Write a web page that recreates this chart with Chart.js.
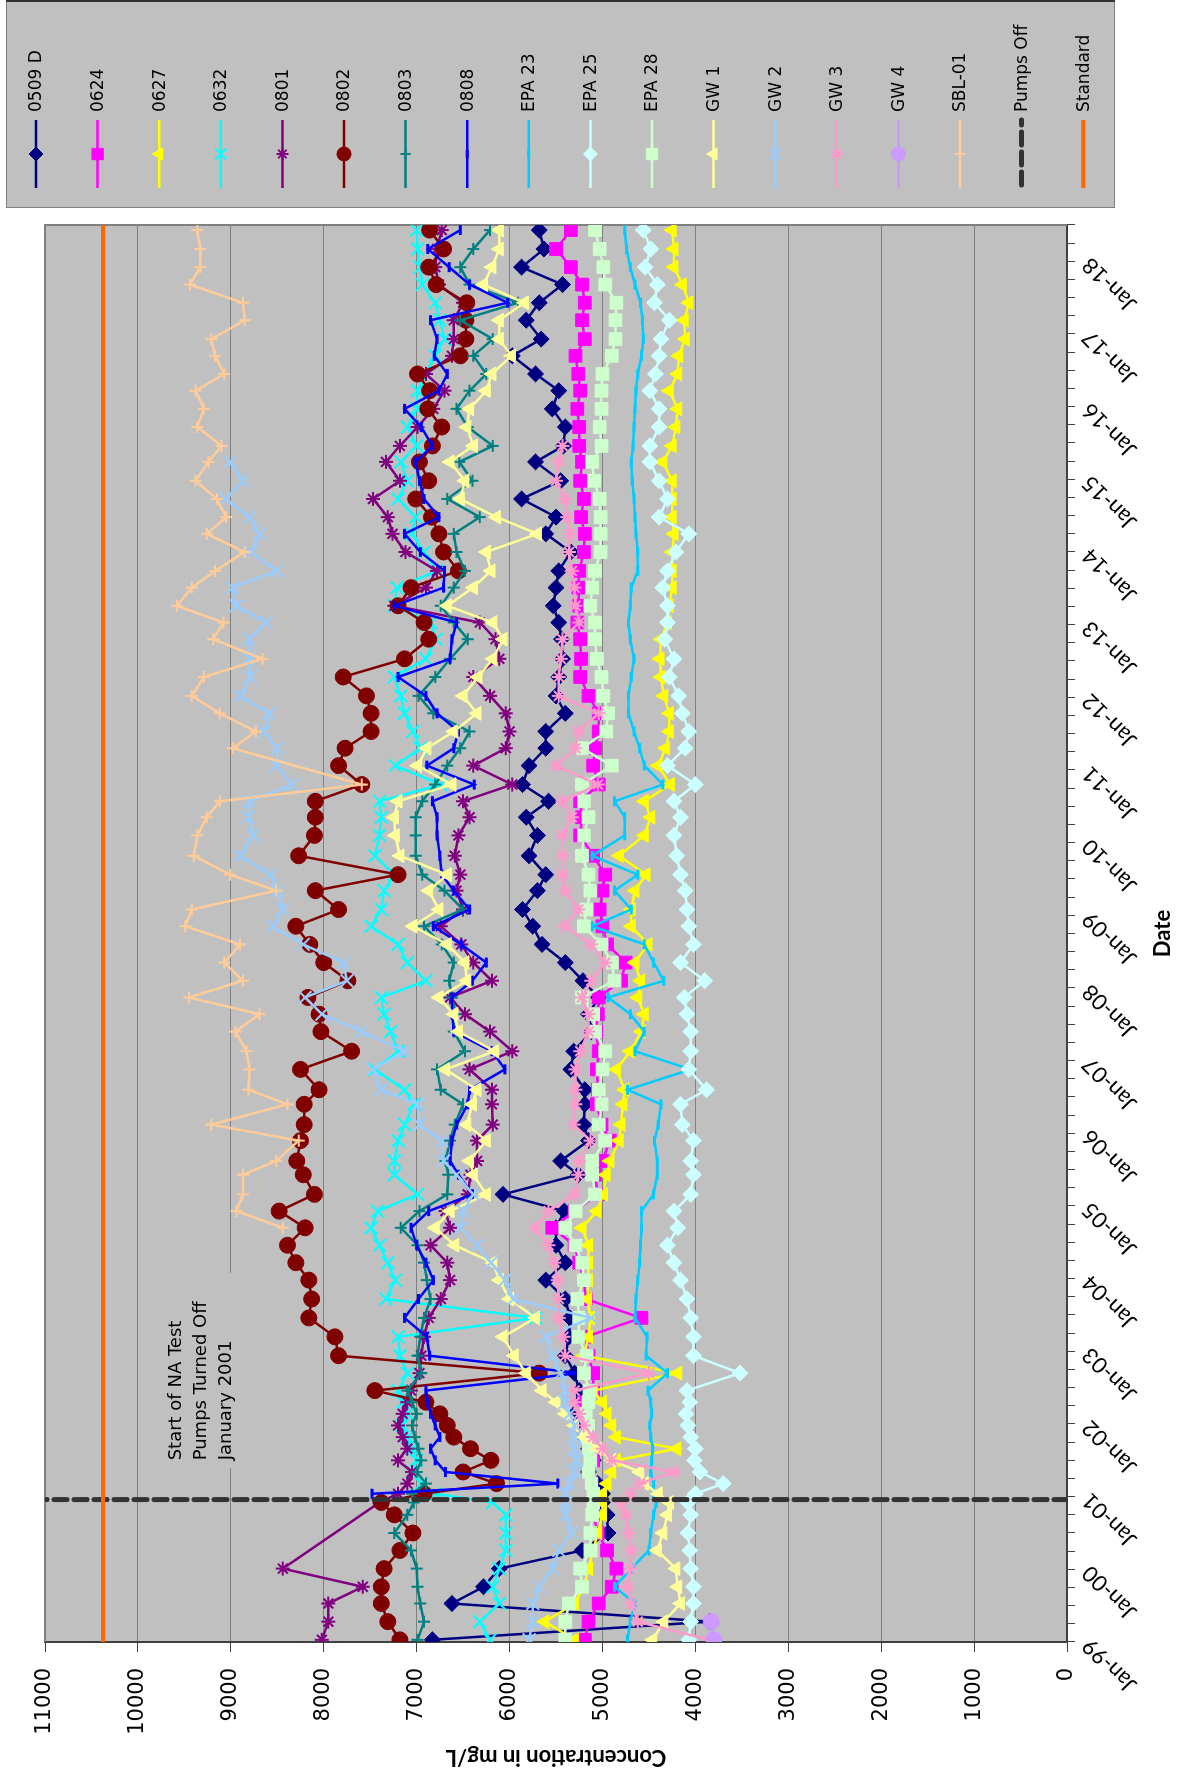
<!DOCTYPE html>
<html>
<head>
<meta charset="utf-8">
<script src="https://cdn.jsdelivr.net/npm/chart.js@4.4.1/dist/chart.umd.min.js"></script>
<style>
  html, body { margin: 0; padding: 0; background: #fff; overflow: hidden; width: 1177px; height: 1775px; }
  /* chart is drawn landscape and turned a quarter turn to fit the portrait page */
  #wrap { position: absolute; left: 0; top: 0; width: 1775px; height: 1177px;
          transform-origin: 0 0; transform: translate(0, 1775px) rotate(-90deg); }
</style>
</head>
<body>
<div id="wrap"><canvas id="chart" width="1775" height="1177"></canvas></div>
<script>
// ---- data (decimal years, mg/L) ----
const dates = [
  1999.03, 1999.28, 1999.53, 1999.76, 2000.01, 2000.26, 2000.50, 2000.75, 2000.92,
  2001.04, 2001.18, 2001.34, 2001.50, 2001.66, 2001.82, 2001.98, 2002.14, 2002.30,
  2002.46, 2002.70, 2002.94, 2003.20, 2003.46, 2003.72, 2003.98, 2004.22, 2004.46,
  2004.70, 2004.93, 2005.16, 2005.43, 2005.62, 2005.90, 2006.12, 2006.40, 2006.60, 2006.88, 2007.13,
  2007.40, 2007.64, 2007.87, 2008.10, 2008.35, 2008.60, 2008.85, 2009.08, 2009.34, 2009.56, 2009.82, 2010.10,
  2010.35, 2010.57, 2010.80, 2011.06, 2011.30, 2011.53, 2011.78, 2012.02, 2012.28, 2012.53, 2012.80,
  2013.03, 2013.26, 2013.51, 2013.74, 2014.00, 2014.25, 2014.48, 2014.73, 2014.98, 2015.24, 2015.46, 2015.72,
  2015.97, 2016.22, 2016.45, 2016.70, 2016.93, 2017.19, 2017.43, 2017.68, 2017.92, 2018.17, 2018.43
];

const s0509D = [
  6830, 3850, 6620, 6280, 6110, 5220, 4940, 4950, 5000,
  5000, 5050, 5150, 5100, 5150, 5200, 5250, 5300, 5250,
  5250, 5300, 5400, 5360, 5350, 5400, 5610, 5400, 5500,
  5500, 5410, 6070, 5260, 5450, 5150, 5200, 5190, 5190, 5340, 5310,
  5120, 5150, 5040, 5210, 5400, 5650, 5750, 5860, 5700, 5610, 5790, 5700,
  5820, 5580, 5860, 5790, 5610, 5610, 5400, 5500, 5470, 5430, 5440,
  5470, 5530, 5500, 5470, 5340, 5610, 5500, 5870, 5450, 5720, 5420, 5400,
  5540, 5470, 5720, 5970, 5660, 5820, 5680, 5430, 5870, 5630, 5680
];
const s0624 = [
  5190, 5150, 5040, 4900, 4850, 4950, 5050, 5100, 5100,
  5100, 5120, 5150, 5100, 5150, 5180, 5150, 5200, 5200,
  5100, 5100, 5150, 5180, 4580, 5180, 5200, 5250, 5300,
  5540, 5300, 5050, 5080, 5000, 4920, 5010, 5060, 5050, 5060, 5040,
  5070, 5050, 5040, 4800, 4750, 4950, 5000, 5030, 5000, 4970, 5100, 5240,
  5220, 5240, 5040, 5100, 5080, 5040, 5040, 5150, 5240, 5230, 5240,
  5270, 5250, 5260, 5250, 5200, 5190, 5230, 5200, 5240, 5220, 5250, 5250,
  5270, 5240, 5260, 5290, 5190, 5220, 5190, 5220, 5340, 5500, 5340
];
const s0627 = [
  5300, 5620, 5300, 5200, 5150, 5100, 5050, 5000, 5000,
  5000, 4950, 4900, 4850, 4200, 4850, 4900, 4950, 5000,
  5100, 4190, 5200, 5150, 5130, 5160, 5150, 5150, 5150,
  5220, 5060, 4990, 4960, 4920, 4820, 4800, 4780, 4760, 4850, 4700,
  4580, 4550, 4620, 4590, 4650, 4510, 4690, 4690, 4650, 4530, 4820, 4550,
  4480, 4550, 4270, 4400, 4320, 4280, 4280, 4340, 4370, 4380, 4370,
  4300, 4280, 4250, 4250, 4250, 4230, 4250, 4250, 4250, 4350, 4250, 4210,
  4190, 4280, 4190, 4180, 4110, 4120, 4070, 4140, 4230, 4230, 4250
];
const s0632 = [
  6210, 6320, 6110, 6180, 6110, 6040, 6040, 6040, 6180,
  6800, 6950, 7050, 7000, 7050, 7100, 7150, 7100, 7150,
  7200, 7100, 7180, 7200, 5720, 7330, 7230, 7310, 7400,
  7490, 7420, 6990, 7240, 7240, 7200, 7130, 7030, 7130, 7450, 7200,
  7280, 7350, 7380, 6900, 7100, 7200, 7490, 7380, 7350, 7240, 7450, 7400,
  7380, 7400, 6740, 7230, 6960, 7040, 7130, 7170, 7240, 6900, 6790,
  6850, 7240, 7210, 6780, 6920, 7050, 7010, 7200, 7100, 7170, 7000, 7100,
  7000, 6990, 6900, 6800, 6700, 6750, 6800, 6940, 6960, 6990, 7000
];
const s0801 = [
  8020, 7950, 7950, 7580, 8440, null, null, null, 7400,
  7200, 7100, 7050, 7200, 7100, 7150, 7200, 7150, 7100,
  7060, 6970, 6950, 6920, 6870, 6740, 6640, 6670, 6850,
  6640, 6690, 6450, 6420, 6350, 6350, 6180, 6190, 6190, 6430, 5970,
  6210, 6480, 6640, 6190, 6390, 6520, 6740, 6500, 6570, 6530, 6590, 6550,
  6430, 6500, 5970, 6390, 6040, 6000, 6040, 6210, 6390, 6110, 6150,
  6320, 7240, 6900, 6780, 7120, 7260, 7310, 7470, 7180, 7330, 7180, 6990,
  6820, 6700, 6900, 6620, 6600, 6600, 6500, 6760, 6800, 6780, 6730
];
const s0802 = [
  7180, 7310, 7380, 7380, 7350, 7180, 7040, 7240, 7380,
  6920, 6140, 6500, 6200, 6420, 6600, 6670, 6750, 6900,
  7450, 5680, 7840, 7880, 8160, 8130, 8160, 8300, 8390,
  8200, 8480, 8100, 8220, 8290, 8250, 8210, 8210, 8050, 8250, 7700,
  8030, 8050, 8170, 7740, 8000, 8150, 8300, 7840, 8090, 7200, 8270, 8100,
  8090, 8090, 7590, 7840, 7770, 7490, 7490, 7540, 7790, 7130, 6870,
  6920, 7200, 7060, 6550, 6710, 6760, 6840, 7010, 6870, 6970, 6830, 6730,
  6880, 6860, 6990, 6530, 6470, 6470, 6460, 6790, 6870, 6710, 6860
];
const s0803 = [
  6990, 6920, 6960, 6990, 7000, 7060, 7240, 7100, 7030,
  7050, 6900, 7000, 6950, 6980, 7020, 7050, 7000, 7050,
  7100, 6950, 6990, 6960, 6920, 6850, 6890, 6920, 6990,
  7170, 6970, 6670, 6660, 6690, 6640, 6590, 6500, 6740, 6780, 6480,
  6600, 6580, 6620, 6650, 6600, 6730, 6920, 6500, 6700, 6940, 7010, 7010,
  7010, 6940, 6800, 6670, 6530, 6430, 6820, 6980, 6800, 6640, 6450,
  6600, 6740, 6600, 6480, 6570, 6600, 6320, 6670, 6400, 6540, 6180, 6450,
  6570, 6430, 6250, 6390, 6180, 6530, 5910, 6430, 6530, 6390, 6210
];
const s0808 = [
  null, null, null, null, null, null, null, null, null,
  7480, 5480, 6690, 6800, 6850, 6750, 6800, 6850, 6880,
  6900, 5260, 6860, 6890, 7130, 6980, 6820, 6900, 7000,
  7060, 6870, 6400, 6550, 6640, 6620, 6570, 6450, 6430, 6050, 6190,
  6600, 6620, 6620, 6400, 6250, 6520, 6820, 6430, 6600, 6730, 6750, 6780,
  6780, 6830, 6380, 6890, 6600, 6550, 6780, 6900, 7200, 6640, 6620,
  6570, 7240, 6710, 6700, 6960, 7130, 6760, 6920, 6970, 7010, 6830, 6950,
  7130, 6760, 6670, 6810, 6780, 6850, 6020, 6430, 6650, 6880, 6530
];
const sEPA23 = [
  4730, 4700, 4650, 4870, 4690, 4500, 4480, 4450, 4420,
  4450, 4450, 4480, 4470, 4460, 4480, 4490, 4470, 4480,
  4510, 4300, 4530, 4520, 4650, 4640, 4620, 4600, 4590,
  4580, 4580, 4450, 4410, 4410, 4440, 4400, 4370, 4730, 4050, 4650,
  4550, 4700, 4940, 4340, 4450, 4550, 5110, 4690, 4870, 4620, 5110, 4760,
  4760, 4870, 4350, 4550, 4600, 4660, 4720, 4720, 4690, 4660, 4700,
  4720, 4700, 4690, 4620, 4620, 4640, 4650, 4660, 4680, 4690, 4670, 4660,
  4650, 4640, 4620, 4580, 4560, 4570, 4590, 4650, 4700, 4740, 4760
];
const sEPA25 = [
  4070, 4050, 4020, 4020, 4050, 4060, 4080, 4050, 4080,
  4000, 3700, 3950, 4010, 4000, 4050, 4080, 4100, 4060,
  4090, 3520, 4020, 4020, 4050, 4090, 4160, 4230, 4300,
  4190, 4230, 4050, 4020, 4050, 4020, 4140, 4160, 3880, 4070, 4050,
  4050, 4090, 4120, 3900, 4160, 4020, 4070, 4090, 4110, 4160, 4200, 4230,
  4160, 4230, 4000, 4300, 4110, 4070, 4140, 4180, 4280, 4230, 4330,
  4300, 4300, 4350, 4300, 4210, 4070, 4390, 4300, 4390, 4490, 4490, 4390,
  4390, 4490, 4430, 4390, 4370, 4280, 4440, 4410, 4540, 4480, 4560
];
const sEPA28 = [
  5400, 5400, 5360, 5220, 5240, 5130, 5130, 5110, 5100,
  5100, 5120, 5150, 5130, 5150, 5170, 5150, 5180, 5150,
  5140, 5200, 5170, 5260, 5250, 5270, 5200, 5220, 5290,
  5400, 5290, 5080, 5110, 5110, 4970, 5040, 5010, 5040, 5000, 4970,
  5080, 5100, 5220, 4870, 4900, 5010, 5200, 5170, 5130, 5150, 5220, 5200,
  5150, 5200, 5220, 4900, 5220, 4960, 4940, 4990, 5010, 5060, 5080,
  5080, 5130, 5110, 5080, 5020, 5020, 5020, 5030, 5090, 5110, 5010, 5030,
  5010, 5010, 5000, 4900, 4860, 4860, 4850, 4970, 4990, 5030, 5080
];
const sGW1 = [
  4460, 4340, 4160, 4190, 4210, 4410, 4350, 4300, 4280,
  4400, 4550, 4600, 4900, 5050, 5200, 5300, 5400, 5500,
  5650, 5820, 5950, 6070, 5720, 6000, 6110, 6180, 6590,
  6800, 6640, 6250, 6390, 6430, 6250, 6460, 6400, 6350, 6690, 6160,
  6550, 6600, 6760, 6460, 6480, 6670, 7040, 6760, 6870, 6670, 7180, 7230,
  7240, 7200, 6620, 6990, 6890, 6600, 6350, 6500, 6340, 6180, 6070,
  6180, 6670, 6390, 6200, 6250, 5700, 6140, 6530, 6480, 6640, 6390, 6460,
  6430, 6250, 6190, 5980, 6110, 6110, 5840, 6280, 6190, 6110, 6110
];
const sGW2 = [
  5790, 5750, 5750, 5680, 5540, 5470, 5330, 5400, 5400,
  5400, 5350, 5300, 5280, 5300, 5300, 5300, 5350, 5400,
  5400, 5450, 5540, 5610, 5120, 5960, 6050, 6200, 6350,
  6530, 6500, 6390, 6570, 6710, 6730, 6970, 6990, 7380, 7470, 7130,
  7590, 8020, 8200, 7750, 7790, 8220, 8550, 8440, 8500, 8570, 8900, 8760,
  8810, 8800, 8340, 8510, 8500, 8640, 8590, 8900, 8790, 8800, 8800,
  8620, 8940, 8980, 8510, 8780, 8690, 8800, 9050, 8870, 9010, null, null,
  null, null, null, null, null, null, null, null, null, null, null
];
const sGW3 = [
  3850, 4620, 4690, 4730, 4700, 4690, 4720, 4750, 4800,
  4700, 4600, 4230, 4900, 5000, 5100, 5200, 5250, 5300,
  5300, 4500, 5400, 5420, 5470, 5470, 5480, 5520, 5580,
  5720, 5580, 5300, 5260, 5250, 5130, 5310, 5290, 5290, 5290, 5240,
  5150, 5150, 5220, 5120, 4970, 5120, 5400, 5260, 5400, 5430, 5430, 5430,
  5330, 5430, 5050, 5500, 5290, 5260, 5040, 5470, 5470, 5450, 5430,
  5250, 5290, 5300, 5330, 5360, 5350, 5380, 5400, 5500, 5470, 5430, null,
  null, null, null, null, null, null, null, null, null, null, null
];
const sGW4 = [
  3800, 3830, null, null, null, null, null, null, null,
  null, null, null, null, null, null, null, null, null,
  null, null, null, null, null, null, null, null, null,
  null, null, null, null, null, null, null, null, null, null, null,
  null, null, null, null, null, null, null, null, null, null, null, null,
  null, null, null, null, null, null, null, null, null, null, null,
  null, null, null, null, null, null, null, null, null, null, null, null,
  null, null, null, null, null, null, null, null, null, null, null
];
const sSBL01 = [
  null, null, null, null, null, null, null, null, null,
  null, null, null, null, null, null, null, null, null,
  null, null, null, null, null, null, null, null, null,
  8440, 8940, 8870, 8870, 8510, 8270, 9210, 8390, 8810, 8800, 8830,
  8950, 8690, 9450, 8870, 9070, 8900, 9490, 9420, 8510, 9010, 9400, 9360,
  9260, 9120, 7590, null, 8980, 8730, 9120, 9420, 9290, 8660, 9190,
  9080, 9580, 9420, 9170, 8850, 9260, 9050, 9150, 9380, 9240, 9100, 9360,
  9290, 9380, 9070, 9170, 9210, 8850, 8870, 9440, 9330, 9330, 9360
];

const pumpsOffDate = 2000.96;
const standardValue = 10375;
const yearLabels = ['Jan-99', 'Jan-00', 'Jan-01', 'Jan-02', 'Jan-03', 'Jan-04', 'Jan-05', 'Jan-06', 'Jan-07',
  'Jan-08', 'Jan-09', 'Jan-10', 'Jan-11', 'Jan-12', 'Jan-13', 'Jan-14', 'Jan-15', 'Jan-16', 'Jan-17', 'Jan-18'];
const noteLines = ['Start of NA Test', 'Pumps Turned Off', 'January 2001'];

// ---- looks ----
const wells = [
  { label: '0509 D', values: s0509D, color: '#000080', style: 'rectRot', r: 8, bw: 1 },
  { label: '0624', values: s0624, color: '#FF00FF', style: 'rect', r: 9, bw: 1 },
  { label: '0627', values: s0627, color: '#FFFF00', style: 'triangle', r: 8, bw: 1 },
  { label: '0632', values: s0632, color: '#00FFFF', style: 'crossRot', r: 9, bw: 2 },
  { label: '0801', values: s0801, color: '#800080', style: 'star', r: 7, bw: 2 },
  { label: '0802', values: s0802, color: '#800000', style: 'circle', r: 8, bw: 1 },
  { label: '0803', values: s0803, color: '#008080', style: 'cross', r: 6, bw: 2 },
  { label: '0808', values: s0808, color: '#0000FF', style: 'line', r: 5, bw: 3 },
  { label: 'EPA 23', values: sEPA23, color: '#00CCFF', style: 'line', r: 5, bw: 3 },
  { label: 'EPA 25', values: sEPA25, color: '#CCFFFF', style: 'rectRot', r: 8, bw: 1 },
  { label: 'EPA 28', values: sEPA28, color: '#CCFFCC', style: 'rect', r: 9, bw: 1 },
  { label: 'GW 1', values: sGW1, color: '#FFFF99', style: 'triangle', r: 8, bw: 1 },
  { label: 'GW 2', values: sGW2, color: '#99CCFF', style: 'crossRot', r: 9, bw: 2 },
  { label: 'GW 3', values: sGW3, color: '#FF99CC', style: 'star', r: 7, bw: 2 },
  { label: 'GW 4', values: sGW4, color: '#CC99FF', style: 'circle', r: 8, bw: 1 },
  { label: 'SBL-01', values: sSBL01, color: '#FFCC99', style: 'cross', r: 6, bw: 2 }
];

const datasets = wells.map(w => ({
  label: w.label,
  data: dates.map((x, i) => ({ x: x, y: w.values[i] })),
  showLine: true,
  spanGaps: true,
  borderColor: w.color,
  backgroundColor: w.color,
  borderWidth: 2.5,
  pointStyle: w.style,
  pointRadius: w.r,
  pointBorderWidth: w.bw,
  pointBackgroundColor: w.color,
  pointBorderColor: w.color
}));

datasets.push({
  label: 'Pumps Off',
  data: [{ x: pumpsOffDate, y: 0 }, { x: pumpsOffDate, y: 11000 }],
  showLine: true,
  borderColor: '#333333',
  borderWidth: 5,
  borderDash: [13, 7],
  borderCapStyle: 'round',
  pointRadius: 0
});
datasets.push({
  label: 'Standard',
  data: [{ x: 1999, y: standardValue }, { x: 2018.5, y: standardValue }],
  showLine: true,
  borderColor: '#FF6600',
  borderWidth: 4,
  pointRadius: 0
});

// later series sit on top, as in the original workbook
datasets.forEach((d, i) => { d.order = datasets.length - i; });

// ---- plugins ----
const plotBackground = {
  id: 'plotBackground',
  beforeDraw(chart) {
    const { ctx, chartArea: a } = chart;
    ctx.save();
    ctx.fillStyle = '#C0C0C0';
    ctx.fillRect(a.left, a.top, a.right - a.left, a.bottom - a.top);
    ctx.restore();
  }
};

const noteBox = {
  id: 'noteBox',
  beforeDatasetsDraw(chart) {
    const { ctx, chartArea: a, scales: { x, y } } = chart;
    ctx.save();
    // plain grey box hides the gridline behind the note
    const x0 = x.getPixelForValue(2001.39), x1 = x.getPixelForValue(2004.08);
    const y0 = y.getPixelForValue(9924), y1 = y.getPixelForValue(8901);
    ctx.fillStyle = '#C0C0C0';
    ctx.fillRect(x0, y0, x1 - x0, y1 - y0);
    // frame along the far sides of the plot
    ctx.strokeStyle = '#808080';
    ctx.lineWidth = 2;
    ctx.beginPath();
    ctx.moveTo(a.left, a.top);
    ctx.lineTo(a.right, a.top);
    ctx.lineTo(a.right, a.bottom);
    ctx.stroke();
    ctx.fillStyle = '#000';
    ctx.font = '18px "DejaVu Sans"';
    ctx.textAlign = 'left';
    ctx.textBaseline = 'middle';
    const tx = x.getPixelForValue(2001.5);
    const rows = [9590, 9320, 9050];
    noteLines.forEach((t, i) => ctx.fillText(t, tx, y.getPixelForValue(rows[i])));
    ctx.restore();
  }
};

const sideLegend = {
  id: 'sideLegend',
  afterDraw(chart) {
    const { ctx } = chart;
    const list = chart.data.datasets;
    ctx.save();
    ctx.fillStyle = '#C0C0C0';
    ctx.fillRect(1567, 6, 207, 1109);
    ctx.strokeStyle = '#808080';
    ctx.lineWidth = 1;
    ctx.strokeRect(1567.5, 6.5, 206, 1108);
    ctx.strokeStyle = '#333';
    ctx.lineWidth = 2;
    ctx.beginPath();
    ctx.moveTo(1774, 6);
    ctx.lineTo(1774, 1115);
    ctx.stroke();

    list.forEach((d, i) => {
      const cy = 36 + i * 61.6;
      ctx.save();
      ctx.strokeStyle = d.borderColor;
      ctx.lineWidth = d.borderWidth;
      ctx.lineCap = d.borderCapStyle || 'butt';
      ctx.setLineDash(d.borderDash || []);
      ctx.beginPath();
      if (d.borderDash) {
        ctx.moveTo(1590, cy);
        ctx.lineTo(1655, cy);
      } else {
        ctx.moveTo(1587, cy);
        ctx.lineTo(1655, cy);
      }
      ctx.stroke();
      ctx.setLineDash([]);
      if (d.pointRadius > 0) {
        ctx.fillStyle = d.pointBackgroundColor;
        ctx.strokeStyle = d.pointBorderColor;
        ctx.lineWidth = d.pointBorderWidth;
        Chart.helpers.drawPoint(ctx, {
          pointStyle: d.pointStyle,
          radius: d.pointRadius - 1,
          borderWidth: d.pointBorderWidth,
          rotation: 0
        }, 1621, cy);
      }
      ctx.restore();
      ctx.fillStyle = '#000';
      ctx.font = '17px "DejaVu Sans"';
      ctx.textAlign = 'left';
      ctx.textBaseline = 'middle';
      ctx.fillText(d.label, 1663, cy + 1);
    });
    ctx.restore();
  }
};

// ---- chart ----
new Chart(document.getElementById('chart').getContext('2d'), {
  type: 'scatter',
  data: { datasets: datasets },
  options: {
    responsive: false,
    animation: false,
    devicePixelRatio: 1,
    layout: { padding: { top: 45, right: 225, bottom: 0, left: 0 } },
    plugins: { legend: { display: false }, tooltip: { enabled: false } },
    scales: {
      x: {
        type: 'linear',
        min: 1999,
        max: 2018.5,
        afterFit: s => { s.height = 110; },
        grid: { drawOnChartArea: false, drawTicks: true, tickLength: 8, tickColor: '#404040', lineWidth: 1 },
        border: { color: '#404040', width: 2 },
        ticks: {
          stepSize: 0.25,
          autoSkip: false,
          minRotation: 45,
          maxRotation: 45,
          padding: 2,
          color: '#000',
          font: { family: 'Lato', size: 22 },
          callback: v => Number.isInteger(v) ? yearLabels[v - 1999] : ''
        },
        title: {
          display: true,
          text: 'Date',
          color: '#000',
          font: { family: 'Lato', size: 22, weight: 'bold' },
          padding: { top: 0, bottom: 1 }
        }
      },
      y: {
        min: 0,
        max: 11000,
        afterFit: s => { s.width = 133; },
        grid: { color: '#808080', lineWidth: 1, tickLength: 10, tickColor: '#404040' },
        border: { color: '#404040', width: 2 },
        ticks: {
          stepSize: 1000,
          padding: 16,
          color: '#000',
          font: { family: 'DejaVu Sans', size: 21 },
          callback: v => String(v)
        },
        title: {
          display: true,
          text: 'Concentration in mg/L',
          color: '#000',
          font: { family: 'Lato', size: 22, weight: 'bold' },
          padding: { top: 5, bottom: 0 }
        }
      }
    }
  },
  plugins: [plotBackground, noteBox, sideLegend]
});
</script>
</body>
</html>
